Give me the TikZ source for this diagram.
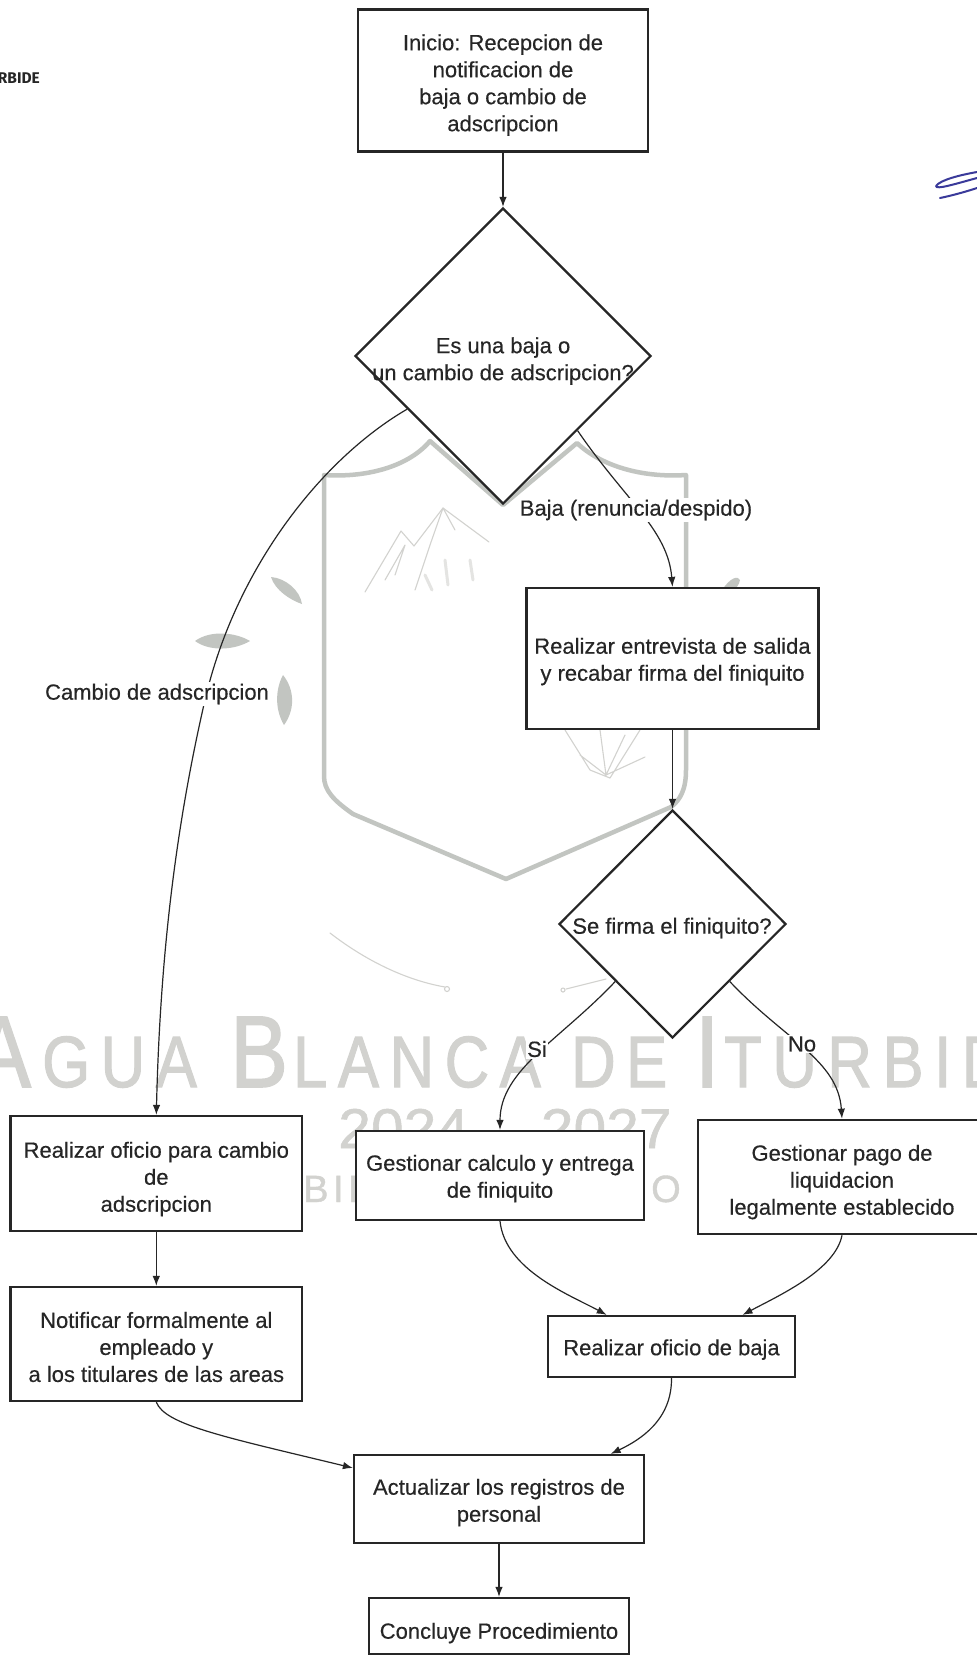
\documentclass[tikz,border=0pt]{standalone}
\usepackage{fontspec}
\setmainfont[FakeBold=0.35]{Liberation Sans}
\newfontfamily\wmfont[LetterSpace=17,FakeBold=1.6]{Liberation Sans}
\newfontfamily\wmfontb[LetterSpace=12,FakeBold=1]{Liberation Sans}
\newfontfamily\wmfontc[FakeBold=1]{Liberation Sans}
\newfontfamily\stampfont{Fira Sans}
\usetikzlibrary{shapes.geometric,arrows.meta}
\definecolor{ink}{HTML}{262626}
\definecolor{wm}{HTML}{D2D2CF}
\definecolor{wmdark}{HTML}{C2C5C1}
\definecolor{pen}{HTML}{3A3A9A}
% pushes a text block down by #1 inside its fixed box
\newcommand\dn[1]{\rule{0pt}{\dimexpr16pt+#1pt+#1pt\relax}}
\tikzset{
  x=1pt,y=-1pt,
  stepbox/.style={draw=ink,line width=2.2pt,fill=white,inner sep=0pt,align=center,text=ink,
    font=\fontsize{22}{27}\selectfont},
  choice/.style={diamond,shape aspect=1,draw=ink,line width=2.2pt,fill=white,inner sep=0pt},
  choicetext/.style={inner sep=0pt,align=center,text=ink,font=\fontsize{22}{27}\selectfont},
  edgelabel/.style={fill=white,inner sep=1.5pt,text=ink,font=\fontsize{22}{27}\selectfont},
  link/.style={draw=ink,line width=1.2pt,-{Latex[length=10pt,width=7.5pt]}},
  wmline/.style={draw=wm,line width=1.1pt,line cap=round,line join=round},
  leaf/.style={fill=wmdark,draw=none},
  wmbig/.style={inner sep=0pt,anchor=base west,text=wm,xscale=0.85},
}
\begin{document}
\begin{tikzpicture}
\path[use as bounding box,clip] (0,0) rectangle (977,1655);
\fill[white] (0,0) rectangle (977,1655);

% watermark: shield
\draw[draw=wmdark,line width=4.5pt,line join=round]
  (324,475) .. controls (370,478) and (410,465) .. (430,441)
  -- (503,505) -- (577,443)
  .. controls (600,465) and (640,478) .. (686,475)
  -- (686,770) .. controls (686,790) and (680,800) .. (671,807)
  -- (506,879) -- (353,814)
  .. controls (333,800) and (324,790) .. (324,776) -- cycle;
% watermark: mountains and plants
\draw[wmline] (365,592) -- (401,531) -- (414,546) -- (443,508) -- (489,542);
\draw[wmline] (385,580) -- (405,545) -- (395,575);
\draw[wmline] (415,590) -- (430,545) -- (443,508) -- (455,530);
\draw[wmline,line width=3pt,draw=wm!60] (425,575) -- (432,590) (445,560) -- (448,585) (470,560) -- (473,580);
\draw[wmline] (565,730) -- (590,770) -- (610,778) -- (640,730)
  (600,730) -- (606,775) -- (625,735) (580,755) -- (606,775) -- (645,757);
% watermark: leaves
\fill[leaf] (271,577) .. controls (285,578) and (300,590) .. (302,604) .. controls (290,600) and (275,590) .. (271,577) -- cycle;
\fill[leaf] (195,641) .. controls (210,630) and (235,632) .. (250,641) .. controls (235,650) and (210,652) .. (195,641) -- cycle;
\fill[leaf] (283,675) .. controls (295,690) and (295,710) .. (284,725) .. controls (275,710) and (275,690) .. (283,675) -- cycle;
\fill[leaf] (722,590) .. controls (730,578) and (738,575) .. (740,580) .. controls (738,590) and (730,592) .. (722,590) -- cycle;
% watermark: bottom arcs
\draw[wmline] (330,933) .. controls (365,960) and (405,980) .. (445,987);
\draw[wmline,fill=white] (447,989) circle (2.5);
\draw[wmline] (606,979) -- (566,989);
\draw[wmline,fill=white] (563,990) circle (2);
% watermark: text
\node[wmbig] (wmA) at (-27,1087) {\wmfont\fontsize{102}{102}\selectfont A};
\node[wmbig] (wmGUA) at (42,1087) {\wmfont\fontsize{72.6}{72.6}\selectfont GUA};
\node[wmbig] (wmB) at (230,1087) {\wmfont\fontsize{102}{102}\selectfont B};
\node[wmbig] (wmLANCA) at (293,1087) {\wmfont\fontsize{72.6}{72.6}\selectfont LANCA};
\node[wmbig] (wmDE) at (571,1087) {\wmfont\fontsize{72.6}{72.6}\selectfont DE};
\node[wmbig] (wmI) at (695,1087) {\wmfont\fontsize{102}{102}\selectfont I};
\node[wmbig] (wmTURBIDE) at (724,1087) {\wmfont\fontsize{72.6}{72.6}\selectfont TURBIDE};
\node[inner sep=0pt,anchor=base,text=wm,xscale=1.05] (wmyears) at (505,1148) {\wmfontc\fontsize{56}{56}\selectfont 2024 -- 2027};
\node[inner sep=0pt,anchor=base west,text=wm] (wmBIE) at (303,1202) {\wmfontb\fontsize{38}{38}\selectfont BIE};
\node[inner sep=0pt,anchor=base west,text=wm] (wmO) at (651,1202) {\wmfontc\fontsize{38}{38}\selectfont O};

% stray marks of the scan
\node[inner sep=0pt,anchor=base east,text=ink] (stamp) at (40,83) {\stampfont\bfseries\fontsize{15.5}{16}\selectfont RBIDE};
\draw[draw=pen,line width=2pt,line cap=round,line join=round]
  (977,172) .. controls (960,175) and (940,180) .. (936,186) .. controls (936,190) and (955,184) .. (977,178);
\draw[draw=pen,line width=2pt,line cap=round] (940,198) .. controls (950,196) and (965,192) .. (977,188);

% nodes
\node[stepbox,minimum width=290pt,minimum height=142pt] (start) at (503,80.5)
  {\dn{4.5}Inicio: Recepcion de\\notificacion de\\baja o cambio de\\adscripcion};
\node[choice,minimum width=296pt,minimum height=296pt] (q1) at (503,356) {};
\node[choicetext] (q1t) at (503,361) {Es una baja o\\un cambio de adscripcion?};
\node[stepbox,minimum width=292pt,minimum height=141pt] (exit) at (672.5,658.5)
  {\dn{3}Realizar entrevista de salida\\y recabar firma del finiquito};
\node[choice,minimum width=227pt,minimum height=228pt] (q2) at (672.5,924) {};
\node[choicetext] (q2t) at (672,928) {Se firma el finiquito?};
\node[stepbox,minimum width=291.5pt,minimum height=115pt] (oficio) at (156.3,1173.5)
  {\dn{5.5}Realizar oficio para cambio\\de\\adscripcion};
\node[stepbox,minimum width=291.5pt,minimum height=114pt] (notif) at (156.3,1344)
  {\dn{3}Notificar formalmente al\\empleado y\\a los titulares de las areas};
\node[stepbox,minimum width=288pt,minimum height=89pt] (calc) at (500,1175.5)
  {\dn{3}Gestionar calculo y entrega\\de finiquito};
\node[stepbox,minimum width=288pt,minimum height=114.5pt] (pago) at (842,1177)
  {\dn{5}Gestionar pago de\\liquidacion\\legalmente establecido};
\node[stepbox,minimum width=247pt,minimum height=61pt] (baja) at (671.5,1346.5)
  {\dn{3}Realizar oficio de baja};
\node[stepbox,minimum width=290pt,minimum height=88pt] (act) at (499,1499)
  {\dn{3.5}Actualizar los registros de\\personal};
\node[stepbox,minimum width=260pt,minimum height=56pt] (fin) at (499,1626)
  {\dn{7}Concluye Procedimiento};
\coordinate (bend) at (205,700);

% connectors
\draw[link] (start.south) -- (q1.north);
\draw[link] (q1.south east) .. controls (625,500) and (668,530) .. (exit.north);
\draw[link] (q1.209) .. controls (320,460) and (235,570) .. (bend) .. controls (175,830) and (160,960) .. (oficio.north);
\draw[link] (exit.south) -- (q2.north);
\draw[link] (q2.south west) .. controls (560,1040) and (500,1070) .. (calc.north);
\draw[link] (q2.south east) .. controls (785,1040) and (838,1060) .. (pago.north);
\draw[link] (oficio.south) -- (notif.north);
\draw[link] (calc.south) .. controls (505,1270) and (570,1295) .. (baja.154.7);
\draw[link] (pago.south) .. controls (835,1270) and (780,1295) .. (baja.24.6);
\draw[link] (baja.south) .. controls (672,1420) and (640,1440) .. (act.22.2);
\draw[link] (notif.south) .. controls (165,1425) and (225,1437) .. (act.168.3);
\draw[link] (act.south) -- (fin.north);

% labels
\node[edgelabel] (lbaja) at (636,510) {Baja (renuncia/despido)};
\node[edgelabel] (lcambio) at (157,694) {Cambio de adscripcion};
\node[edgelabel] (lsi) at (537,1049) {Si};
\node[edgelabel] (lno) at (802,1044) {No};
\end{tikzpicture}
\end{document}
